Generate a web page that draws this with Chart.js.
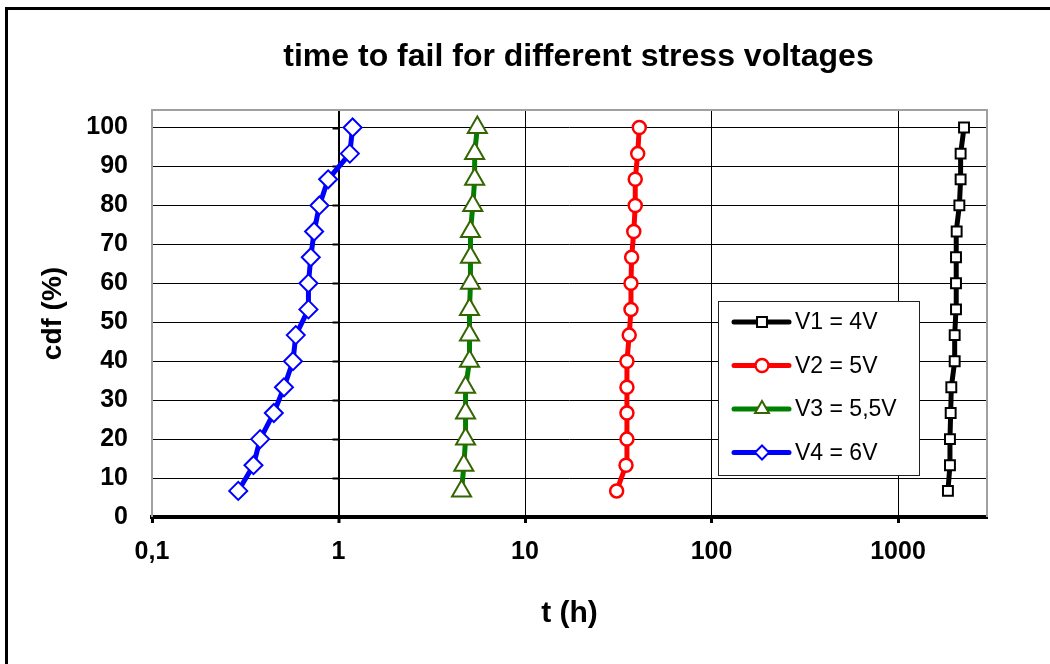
<!DOCTYPE html>
<html>
<head>
<meta charset="utf-8">
<script src="https://cdn.jsdelivr.net/npm/chart.js@4/dist/chart.umd.min.js"></script>
<style>
  html, body { margin: 0; padding: 0; background: #fff; overflow: hidden; }
  #frame { position: absolute; left: 5px; top: 7px; width: 1200px; height: 800px; border: 3px solid #000; }
  #wrap { position: absolute; left: 0; top: 0; width: 1050px; height: 664px; }
</style>
</head>
<body>
<div id="frame"></div>
<div id="wrap"><canvas id="chart"></canvas></div>
<script>
// cdf (%) at each failure rank, shared by all four series
const cdf = [6.7, 13.3, 20, 26.7, 33.3, 40, 46.7, 53.3, 60, 66.7, 73.3, 80, 86.7, 93.3, 100];

// time to fail (h)
const tV1 = [1852, 1899, 1899, 1916, 1931, 2013, 2013, 2046, 2046, 2046, 2063, 2133, 2166, 2166, 2259];
const tV2 = [31.0, 34.8, 35.2, 35.2, 35.2, 35.2, 36.2, 37.0, 37.0, 37.3, 38.3, 39.0, 39.0, 40.2, 41.0];
const tV3 = [4.57, 4.70, 4.80, 4.80, 4.80, 5.04, 5.04, 5.04, 5.10, 5.10, 5.10, 5.25, 5.37, 5.37, 5.55];
const tV4 = [0.29, 0.35, 0.38, 0.45, 0.51, 0.57, 0.59, 0.69, 0.69, 0.71, 0.74, 0.79, 0.88, 1.15, 1.19];

const seriesNames = ['V1 = 4V', 'V2 = 5V', 'V3 = 5,5V', 'V4 = 6V'];
const xTicks = [0.1, 1, 10, 100, 1000];
const yTicks = [0, 10, 20, 30, 40, 50, 60, 70, 80, 90, 100];

const TITLE = 'time to fail for different stress voltages';
const FONT = '"Liberation Sans", Arial, sans-serif';

Chart.defaults.font.family = FONT;
Chart.defaults.color = '#000';

const pts = (t) => t.map((v, i) => ({ x: v, y: cdf[i] }));

function series(name, t, line, mark, style, radius, legendRadius, bw) {
    return {
        label: name,
        data: pts(t),
        showLine: true,
        borderColor: line,
        borderWidth: 5,
        pointStyle: style,
        pointRadius: radius,
        pointHoverRadius: radius,
        pointBackgroundColor: '#fff',
        pointBorderColor: mark,
        pointBorderWidth: bw,
        legendRadius: legendRadius,
    };
}

// ── Excel-ish decorations: plot border, y axis crossing at t = 1 ───────────

const axisPlugin = {
    id: 'axisDeco',
    beforeDatasetsDraw(chart) {
        const { ctx, chartArea: a, scales } = chart;
        ctx.save();
        ctx.strokeStyle = '#a0a0a0';
        ctx.lineWidth = 2;
        ctx.beginPath();
        ctx.moveTo(a.left, a.bottom);
        ctx.lineTo(a.left, a.top);
        ctx.lineTo(a.right, a.top);
        ctx.lineTo(a.right, a.bottom);
        ctx.stroke();

        const ax = scales.x.getPixelForValue(1);
        ctx.strokeStyle = '#000';
        ctx.lineWidth = 2;
        ctx.beginPath();
        yTicks.forEach((v) => {
            const py = Math.round(scales.y.getPixelForValue(v)) + 0.5;
            ctx.moveTo(ax - 6, py);
            ctx.lineTo(ax, py);
        });
        ctx.stroke();
        ctx.restore();
    },
};

const titlePlugin = {
    id: 'xlTitle',
    afterDraw(chart) {
        const { ctx, chartArea: a } = chart;
        ctx.save();
        ctx.font = 'bold 32px ' + FONT;
        ctx.fillStyle = '#000';
        ctx.textAlign = 'center';
        ctx.textBaseline = 'alphabetic';
        ctx.fillText(TITLE, (a.left + a.right) / 2 + 9, 66);
        ctx.restore();
    },
};

// Legend in a framed box inside the plot, Excel style.
const legendPlugin = {
    id: 'boxLegend',
    afterDraw(chart) {
        const { ctx, chartArea: a } = chart;
        const x0 = a.left + 566, y0 = a.top + 191, w = 201, h = 174;
        ctx.save();
        ctx.fillStyle = '#fff';
        ctx.fillRect(x0, y0, w, h);
        ctx.strokeStyle = '#222';
        ctx.lineWidth = 1;
        ctx.strokeRect(x0 + 0.5, y0 + 0.5, w, h);

        chart.data.datasets.forEach((ds, i) => {
            const cy = y0 + 21 + i * 43.5;
            ctx.strokeStyle = ds.borderColor;
            ctx.lineWidth = 5;
            ctx.lineCap = 'round';
            ctx.beginPath();
            ctx.moveTo(x0 + 16, cy);
            ctx.lineTo(x0 + 71, cy);
            ctx.stroke();

            ctx.fillStyle = '#fff';
            ctx.strokeStyle = ds.pointBorderColor;
            ctx.lineWidth = ds.pointBorderWidth;
            ctx.lineCap = 'butt';
            Chart.helpers.drawPoint(ctx, {
                pointStyle: ds.pointStyle,
                radius: ds.legendRadius,
                borderWidth: ds.pointBorderWidth,
                rotation: 0,
            }, x0 + 44, cy);

            ctx.fillStyle = '#000';
            ctx.font = '23px ' + FONT;
            ctx.textAlign = 'left';
            ctx.textBaseline = 'middle';
            ctx.fillText(ds.label, x0 + 77, cy + 1);
        });
        ctx.restore();
    },
};

new Chart(document.getElementById('chart'), {
    type: 'scatter',
    data: {
        datasets: [
            series(seriesNames[0], tV1, '#000000', '#000000', 'rect', 7, 7, 2),
            series(seriesNames[1], tV2, '#ff0000', '#ff0000', 'circle', 6.5, 6.5, 2.5),
            series(seriesNames[2], tV3, '#008000', '#336600', 'triangle', 11, 8, 2),
            series(seriesNames[3], tV4, '#0000ff', '#0000ff', 'rectRot', 9, 7, 2),
        ],
    },
    options: {
        responsive: true, maintainAspectRatio: false,
        animation: false,
        layout: { padding: { top: 110, right: 63, bottom: 0, left: 0 } },
        plugins: {
            legend: { display: false },
            title: { display: false },
            tooltip: { enabled: false },
        },
        scales: {
            x: {
                type: 'logarithmic',
                min: 0.1, max: 3000,
                afterFit: (s) => { s.height = 147; },
                afterBuildTicks: (s) => { s.ticks = xTicks.map((v) => ({ value: v, major: true })); },
                border: { display: true, color: '#000', width: 4 },
                grid: {
                    color: (c) => (c.tick && c.tick.value === 0.1 ? '#a0a0a0' : '#000'),
                    lineWidth: (c) => (c.tick && c.tick.value === 1 ? 2 : 1),
                    drawTicks: true, tickLength: 6, tickWidth: 3, tickColor: '#000',
                },
                ticks: {
                    padding: 14,
                    autoSkip: false, maxRotation: 0,
                    font: { size: 25, weight: 'bold' },
                    callback: (v) => String(v).replace('.', ','),
                },
                title: {
                    display: true, text: 't (h)',
                    font: { size: 30, weight: 'bold' },
                    padding: { top: 0, bottom: 32 },
                },
            },
            y: {
                min: 0, max: 104.5,
                afterFit: (s) => { s.width = 152; },
                afterBuildTicks: (s) => { s.ticks = yTicks.map((v) => ({ value: v })); },
                border: { display: false },
                grid: {
                    color: (c) => (c.tick && c.tick.value === 0 ? 'transparent' : '#000'),
                    lineWidth: 1,
                    drawTicks: false,
                },
                ticks: {
                    padding: 24,
                    font: { size: 25, weight: 'bold' },
                },
                title: {
                    display: true, text: 'cdf (%)',
                    font: { size: 28, weight: 'bold' },
                    padding: { top: 36, bottom: 0 },
                },
            },
        },
    },
    plugins: [axisPlugin, titlePlugin, legendPlugin],
});
</script>
</body>
</html>
